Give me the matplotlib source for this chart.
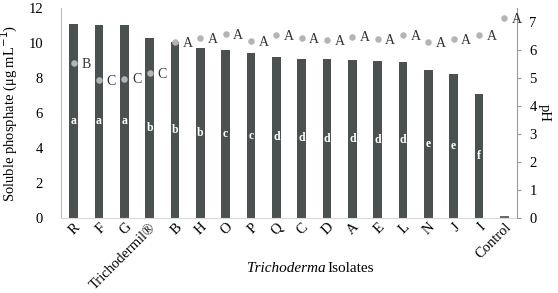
import matplotlib
matplotlib.use("Agg")
import matplotlib.pyplot as plt
import numpy as np

plt.rcParams['font.family'] = ['Liberation Serif', 'DejaVu Serif']

categories = ["R", "F", "G", "Trichodermil®", "B", "H", "O", "P", "Q", "C",
              "D", "A", "E", "L", "N", "J", "I", "Control"]
phosphate = [11.1, 11.04, 11.04, 10.26, 10.03, 9.74, 9.6, 9.41, 9.2, 9.11,
             9.07, 9.03, 8.97, 8.94, 8.46, 8.25, 7.1, 0.0]
bar_letters = ["a", "a", "a", "b", "b", "b", "c", "c", "d", "d",
               "d", "d", "d", "d", "e", "e", "f", ""]
ph = [5.55, 4.93, 4.98, 5.19, 6.27, 6.44, 6.58, 6.32, 6.54, 6.44,
      6.35, 6.48, 6.39, 6.55, 6.27, 6.39, 6.55, 7.15]
ph_letters = ["B", "C", "C", "C", "A", "A", "A", "A", "A", "A",
              "A", "A", "A", "A", "A", "A", "A", "A"]
left_ticks = [0, 2, 4, 6, 8, 10, 12]
right_ticks = [0, 1, 2, 3, 4, 5, 6, 7]

fig = plt.figure(figsize=(5.58, 2.93), dpi=100)
ax = fig.add_axes([61/558, 1-218/293, 456/558, 210/293])
x = np.arange(len(categories))
bar_color = "#4b5150"
ax.bar(x, phosphate, width=0.34, color=bar_color, zorder=2)
# control dash
ax.hlines(0.05, x[-1]-0.17, x[-1]+0.17, color=bar_color, lw=1.2, zorder=3)
for xi, h, t in zip(x, phosphate, bar_letters):
    if t:
        ax.text(xi, h/2, t, ha="center", va="center", color="white",
                fontsize=8.5, fontweight="bold")
ax.set_xlim(-0.5, len(categories)-0.5)
ax.set_ylim(0, 12)
ax.set_yticks(left_ticks)
ax.tick_params(axis="y", length=0, labelsize=10.5, pad=13)
ax.tick_params(axis="x", length=0, labelsize=10.5, pad=2)
ax.set_xticks(x)
ax.set_xticklabels(categories, rotation=45, ha="right", va="top",
                   rotation_mode="anchor")
for sp in ["top", "right"]:
    ax.spines[sp].set_visible(False)
ax.spines["left"].set_color("#bdbdbd")
ax.spines["bottom"].set_color("#d9d9d9")
ax.set_ylabel("Soluble phosphate (μg mL$^{-1}$)", fontsize=10.5, labelpad=2)
ax.yaxis.set_label_coords(-0.09, 0.5)
fig.text(327/558, 1-268/293, "Isolates", fontsize=11, ha="left", va="center")
fig.text(326/558, 1-268/293, "Trichoderma", fontsize=11, ha="right",
         va="center", style="italic")

ax2 = ax.twinx()
ax2.set_ylim(0, 7.5)
ax2.set_yticks(right_ticks)
ax2.scatter(x, ph, s=22, color="#b4b4b4", zorder=4, linewidths=0)
for xi, v, t in zip(x, ph, ph_letters):
    ax2.text(xi + 0.3, v - 0.05, t, ha="left", va="center", fontsize=10,
             color="#333333")
for sp in ["top", "left", "bottom"]:
    ax2.spines[sp].set_visible(False)
ax2.spines["right"].set_color("#9a9a9a")
ax2.tick_params(axis="y", direction="out", length=3, color="#9a9a9a",
                labelsize=10.5, pad=6)
ax2.set_ylabel("pH", fontsize=10.5, rotation=-90, labelpad=10)

fig.savefig("out.png", dpi=100)
